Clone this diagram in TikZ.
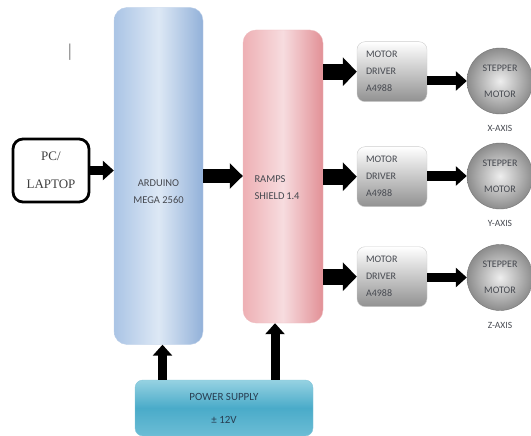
\documentclass[tikz,border=0pt]{standalone}
\usepackage{fontspec}
\setmainfont{Carlito}
\newfontfamily\pcserif{Liberation Serif}
\usetikzlibrary{arrows.meta,positioning}
\definecolor{ArduinoEdge}{RGB}{170,196,229}
\definecolor{ArduinoDeep}{RGB}{146,177,217}
\definecolor{ArduinoLight}{RGB}{221,232,245}
\definecolor{RampsEdge}{RGB}{238,176,180}
\definecolor{RampsDeep}{RGB}{226,144,150}
\definecolor{RampsLight}{RGB}{247,220,223}
\definecolor{DriverShade}{RGB}{145,145,145}
\definecolor{DriverLine}{RGB}{205,205,205}
\definecolor{MotorLight}{RGB}{238,238,238}
\definecolor{MotorShade}{RGB}{140,140,140}
\definecolor{MotorLine}{RGB}{115,115,115}
\definecolor{SupplyTop}{RGB}{150,210,226}
\definecolor{SupplyMid}{RGB}{74,171,201}
\definecolor{SupplyBottom}{RGB}{108,189,213}
\definecolor{SupplyText}{RGB}{40,62,82}
\definecolor{LabelGray}{RGB}{70,73,80}

\begin{document}
\begin{tikzpicture}[x=1pt, y=-1pt,
    lbl/.style={font=\fontsize{10.5}{17}\selectfont, text=LabelGray, align=center},
    driver/.style={draw=DriverLine, rounded corners=8pt, top color=white, bottom color=DriverShade,
                   minimum width=70pt, minimum height=60pt, text width=52pt, align=left,
                   font=\fontsize{10}{17}\selectfont, text=LabelGray},
    stepper/.style={circle, draw=MotorLine, inner color=MotorLight, outer color=MotorShade,
                    minimum size=66pt, inner sep=0pt, align=center,
                    font=\fontsize{10}{26}\selectfont, text=LabelGray},
    axis/.style={font=\fontsize{9.5}{11}\selectfont, text=LabelGray},
    fatarr/.style={line width=16pt, -{Triangle[length=14pt, width=28pt]}},
    midarr/.style={line width=13pt, -{Triangle[length=13pt, width=25pt]}},
    slimarr/.style={line width=9pt, -{Triangle[length=11pt, width=19pt]}},
    node distance=8pt
]
    \useasboundingbox (0,0) rectangle (531,436);
    \node[font=\pcserif\fontsize{18}{18}\selectfont, text=black!60] (cursor) at (70,52) {|};
    \node[draw=black, line width=2.8pt, rounded corners=10pt, minimum width=76pt, minimum height=63pt,
          align=center, font=\pcserif\fontsize{13}{28}\selectfont, text=black!75] (pc) at (51,170.5) {PC/\\LAPTOP};
    \node[draw=ArduinoDeep!60, rounded corners=13pt, left color=ArduinoEdge, right color=ArduinoDeep,
          middle color=ArduinoLight, minimum width=89pt, minimum height=337pt] (ard) at (158.5,176) {};
    \node[lbl] (ardtxt) at (158.5,192) {ARDUINO\\MEGA 2560};
    \node[draw=RampsDeep!60, rounded corners=13pt, left color=RampsEdge, right color=RampsDeep,
          middle color=RampsLight, minimum width=80pt, minimum height=293pt] (ramps) at (283,176.5) {};
    \node[lbl, anchor=west, align=left] (rampstxt) at (251,187.5) {RAMPS\\SHIELD\,1.4};
    \node[driver] (drvX) at (392,71.7) {MOTOR\\DRIVER\\A4988};
    \node[driver] (drvY) at (392,176.7) {MOTOR\\DRIVER\\A4988};
    \node[driver] (drvZ) at (392,276.7) {MOTOR\\DRIVER\\A4988};
    \node[stepper] (motX) at (500,81) {STEPPER\\MOTOR};
    \node[stepper] (motY) at (500,176) {STEPPER\\MOTOR};
    \node[stepper] (motZ) at (500,277.5) {STEPPER\\MOTOR};
    \node[axis, below=of motX] (axX) {X-AXIS};
    \node[axis, below=of motY] (axY) {Y-AXIS};
    \node[axis, below=of motZ] (axZ) {Z-AXIS};
    \node[draw=SupplyMid!70, rounded corners=8pt, top color=SupplyTop, bottom color=SupplyBottom,
          middle color=SupplyMid, minimum width=178pt, minimum height=56pt, align=center,
          font=\fontsize{11}{23}\selectfont, text=SupplyText] (power) at (224,408) {POWER SUPPLY\\± 12V};
    \draw[slimarr] (pc.east) -- (pc.east -| ard.west);
    \draw[midarr] (ard.east) -- (ard.east -| ramps.west);
    \draw[fatarr] (ramps.east |- drvX) -- (drvX.west);
    \draw[fatarr] (ramps.east |- drvY) -- (drvY.west);
    \draw[fatarr] (ramps.east |- drvZ) -- (drvZ.west);
    \draw[slimarr] (drvX.east |- motX) -- (motX);
    \draw[slimarr] (drvY.east |- motY) -- (motY);
    \draw[slimarr] (drvZ.east |- motZ) -- (motZ);
    \draw[slimarr] ([xshift=4pt]ard.south |- power.north) -- ([xshift=4pt]ard.south);
    \draw[slimarr] ([xshift=-8pt]ramps.south |- power.north) -- ([xshift=-8pt]ramps.south);
\end{tikzpicture}
\end{document}
